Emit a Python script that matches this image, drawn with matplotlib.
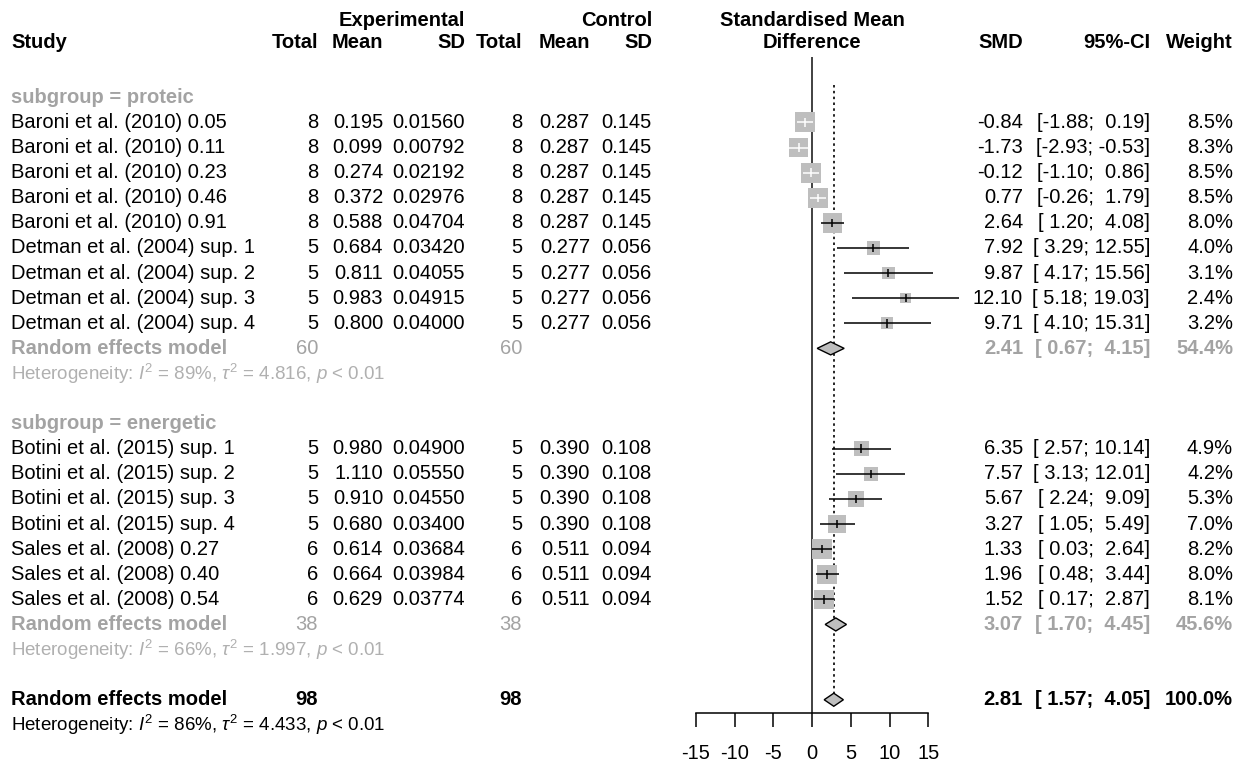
import matplotlib
matplotlib.use("Agg")
import matplotlib.pyplot as plt
import numpy as np

plt.rcParams['font.family'] = ['Liberation Sans', 'DejaVu Sans']
plt.rcParams['mathtext.fontset'] = 'custom'
plt.rcParams['mathtext.rm'] = 'Liberation Sans'
plt.rcParams['mathtext.it'] = 'Liberation Sans:italic'
plt.rcParams['mathtext.bf'] = 'Liberation Sans:bold'

# ---- data ----
studies_p = ["Baroni et al. (2010) 0.05", "Baroni et al. (2010) 0.11", "Baroni et al. (2010) 0.23",
             "Baroni et al. (2010) 0.46", "Baroni et al. (2010) 0.91", "Detman et al. (2004) sup. 1",
             "Detman et al. (2004) sup. 2", "Detman et al. (2004) sup. 3", "Detman et al. (2004) sup. 4"]
n_e_p = [8, 8, 8, 8, 8, 5, 5, 5, 5]
mean_e_p = [0.195, 0.099, 0.274, 0.372, 0.588, 0.684, 0.811, 0.983, 0.800]
sd_e_p = [0.01560, 0.00792, 0.02192, 0.02976, 0.04704, 0.03420, 0.04055, 0.04915, 0.04000]
n_c_p = [8, 8, 8, 8, 8, 5, 5, 5, 5]
mean_c_p = [0.287, 0.287, 0.287, 0.287, 0.287, 0.277, 0.277, 0.277, 0.277]
sd_c_p = [0.145, 0.145, 0.145, 0.145, 0.145, 0.056, 0.056, 0.056, 0.056]
smd_p = [-0.84, -1.73, -0.12, 0.77, 2.64, 7.92, 9.87, 12.10, 9.71]
lo_p = [-1.88, -2.93, -1.10, -0.26, 1.20, 3.29, 4.17, 5.18, 4.10]
hi_p = [0.19, -0.53, 0.86, 1.79, 4.08, 12.55, 15.56, 19.03, 15.31]
w_p = [8.5, 8.3, 8.5, 8.5, 8.0, 4.0, 3.1, 2.4, 3.2]

studies_e = ["Botini et al. (2015) sup. 1", "Botini et al. (2015) sup. 2", "Botini et al. (2015) sup. 3",
             "Botini et al. (2015) sup. 4", "Sales et al. (2008) 0.27", "Sales et al. (2008) 0.40",
             "Sales et al. (2008) 0.54"]
n_e_e = [5, 5, 5, 5, 6, 6, 6]
mean_e_e = [0.980, 1.110, 0.910, 0.680, 0.614, 0.664, 0.629]
sd_e_e = [0.04900, 0.05550, 0.04550, 0.03400, 0.03684, 0.03984, 0.03774]
n_c_e = [5, 5, 5, 5, 6, 6, 6]
mean_c_e = [0.390, 0.390, 0.390, 0.390, 0.511, 0.511, 0.511]
sd_c_e = [0.108, 0.108, 0.108, 0.108, 0.094, 0.094, 0.094]
smd_e = [6.35, 7.57, 5.67, 3.27, 1.33, 1.96, 1.52]
lo_e = [2.57, 3.13, 2.24, 1.05, 0.03, 0.48, 0.17]
hi_e = [10.14, 12.01, 9.09, 5.49, 2.64, 3.44, 2.87]
w_e = [4.9, 4.2, 5.3, 7.0, 8.2, 8.0, 8.1]

groups = ["proteic", "energetic"]
sub_n = [60, 38]
sub_smd = [2.41, 3.07]
sub_lo = [0.67, 1.70]
sub_hi = [4.15, 4.45]
sub_w = [54.4, 45.6]
sub_het = [("89%", "4.816"), ("66%", "1.997")]

tot_n = 98
tot_smd, tot_lo, tot_hi, tot_w = 2.81, 1.57, 4.05, 100.0
tot_het = ("86%", "4.433")

ticks = [-15, -10, -5, 0, 5, 10, 15]

# ---- layout ----
FS = 14.5
GRAY = '#a3a3a3'
HETGRAY = '#b0b0b0'
BOXGRAY = '#bebebe'
YLIM = (25.56, -4.88)
X_STUDY, X_NE, X_ME, X_SE, X_NC, X_MC, X_SC = 11, 318, 383, 465, 522, 590, 652
X_SMD, X_CI, X_W = 1023, 1150, 1233
X0, PXU = 812, 7.75  # pixel of SMD 0, pixels per unit
BOX_PX = 20          # box side for the 8.5% weight

fig = plt.figure(figsize=(12.46, 7.64), dpi=100)
ax = fig.add_axes([0, 0, 1, 1])
ax.set_xlim(0, 1246)
ax.set_ylim(*YLIM)
ax.axis('off')

fx0, fx1 = 690, 960
axf = fig.add_axes([fx0 / 1246, 0, (fx1 - fx0) / 1246, 1])
axf.set_xlim((fx0 - X0) / PXU, (fx1 - X0) / PXU)
axf.set_ylim(*YLIM)
axf.patch.set_visible(False)
for s in ['top', 'right', 'left']:
    axf.spines[s].set_visible(False)
axf.spines['bottom'].set_position(('data', 23.53))
axf.spines['bottom'].set_bounds(-15, 15)
axf.spines['bottom'].set_linewidth(1.1)
axf.set_xticks(ticks)
axf.set_xticklabels([str(t) for t in ticks])
axf.set_yticks([])
axf.tick_params(axis='x', direction='out', length=10, width=1.1, labelsize=FS, pad=12)


def txt(x, y, s, ha='right', **kw):
    kw.setdefault('fontsize', FS)
    ax.text(x, y, s, ha=ha, va='center', **kw)


def ci_str(lo, hi):
    return "[%5.2f; %5.2f]" % (lo, hi)


# headers
txt(X_SE, -4.08, "Experimental", fontweight='bold')
txt(X_SC, -4.08, "Control", fontweight='bold')
txt(X0, -4.08, "Standardised Mean", ha='center', fontweight='bold')
txt(X0, -3.17, "Difference", ha='center', fontweight='bold')
txt(X_STUDY, -3.17, "Study", ha='left', fontweight='bold')
for x, s in [(X_NE, "Total"), (X_ME, "Mean"), (X_SE, "SD"), (X_NC, "Total"), (X_MC, "Mean"),
             (X_SC, "SD"), (X_SMD, "SMD"), (X_CI, "95%-CI"), (X_W, "Weight")]:
    txt(x, -3.17, s, fontweight='bold')

data = [
    (studies_p, n_e_p, mean_e_p, sd_e_p, n_c_p, mean_c_p, sd_c_p, smd_p, lo_p, hi_p, w_p),
    (studies_e, n_e_e, mean_e_e, sd_e_e, n_c_e, mean_c_e, sd_c_e, smd_e, lo_e, hi_e, w_e),
]

row = -1
for g, (st, ne, me, se, nc, mc, sc, smd, lo, hi, w) in enumerate(data):
    txt(X_STUDY, row, "subgroup = " + groups[g], ha='left', color=GRAY, fontweight='bold')
    row += 1
    for i in range(len(st)):
        txt(X_STUDY, row, st[i], ha='left')
        txt(X_NE, row, str(ne[i]))
        txt(X_ME, row, "%.3f" % me[i])
        txt(X_SE, row, "%.5f" % se[i])
        txt(X_NC, row, str(nc[i]))
        txt(X_MC, row, "%.3f" % mc[i])
        txt(X_SC, row, "%.3f" % sc[i])
        txt(X_SMD, row, "%.2f" % smd[i])
        txt(X_CI, row, ci_str(lo[i], hi[i]))
        txt(X_W, row, "%.1f%%" % w[i])
        # box + CI
        side_px = BOX_PX * np.sqrt(w[i] / 8.5)
        axf.scatter([smd[i]], [row], marker='s', s=(side_px * 0.72) ** 2, color=BOXGRAY,
                    edgecolors='none', zorder=2, clip_on=False)
        inside = (hi[i] - lo[i]) * PXU < side_px
        c = 'white' if inside else 'black'
        axf.hlines(row, lo[i], hi[i], color=c, lw=1.1, zorder=3)
        axf.vlines(smd[i], row - 0.17, row + 0.17, color=c, lw=1.1, zorder=3)
        row += 1
    # subgroup summary
    txt(X_STUDY, row, "Random effects model", ha='left', color=GRAY, fontweight='bold')
    txt(X_NE, row, str(sub_n[g]), color=GRAY)
    txt(X_NC, row, str(sub_n[g]), color=GRAY)
    txt(X_SMD, row, "%.2f" % sub_smd[g], color=GRAY, fontweight='bold')
    txt(X_CI, row, ci_str(sub_lo[g], sub_hi[g]), color=GRAY, fontweight='bold')
    txt(X_W, row, "%.1f%%" % sub_w[g], color=GRAY, fontweight='bold')
    axf.fill([sub_lo[g], sub_smd[g], sub_hi[g], sub_smd[g]], [row, row - 0.26, row, row + 0.26],
             facecolor=BOXGRAY, edgecolor='black', lw=1.0, zorder=3)
    row += 1
    i2, t2 = sub_het[g]
    txt(X_STUDY, row, r"Heterogeneity: $I^2$ = %s, $\tau^2$ = %s, $p$ < 0.01" % (i2, t2),
        ha='left', color=HETGRAY, fontsize=13.5)
    row += 2

# overall (row 23)
txt(X_STUDY, row, "Random effects model", ha='left', fontweight='bold')
txt(X_NE, row, str(tot_n), fontweight='bold')
txt(X_NC, row, str(tot_n), fontweight='bold')
txt(X_SMD, row, "%.2f" % tot_smd, fontweight='bold')
txt(X_CI, row, ci_str(tot_lo, tot_hi), fontweight='bold')
txt(X_W, row, "%.1f%%" % tot_w, fontweight='bold')
axf.fill([tot_lo, tot_smd, tot_hi, tot_smd], [row, row - 0.26, row, row + 0.26],
         facecolor=BOXGRAY, edgecolor='black', lw=1.0, zorder=3)
txt(X_STUDY, row + 1, r"Heterogeneity: $I^2$ = %s, $\tau^2$ = %s, $p$ < 0.01" % tot_het,
    ha='left', fontsize=13.5)

# reference lines
axf.vlines(0, -2.6, 23.53, color='#333333', lw=1.3, zorder=1)
axf.vlines(tot_smd, -1.5, row, color='black', lw=1.2, linestyles=(0, (1.5, 2)), zorder=1)

fig.savefig("out.png", dpi=100)
